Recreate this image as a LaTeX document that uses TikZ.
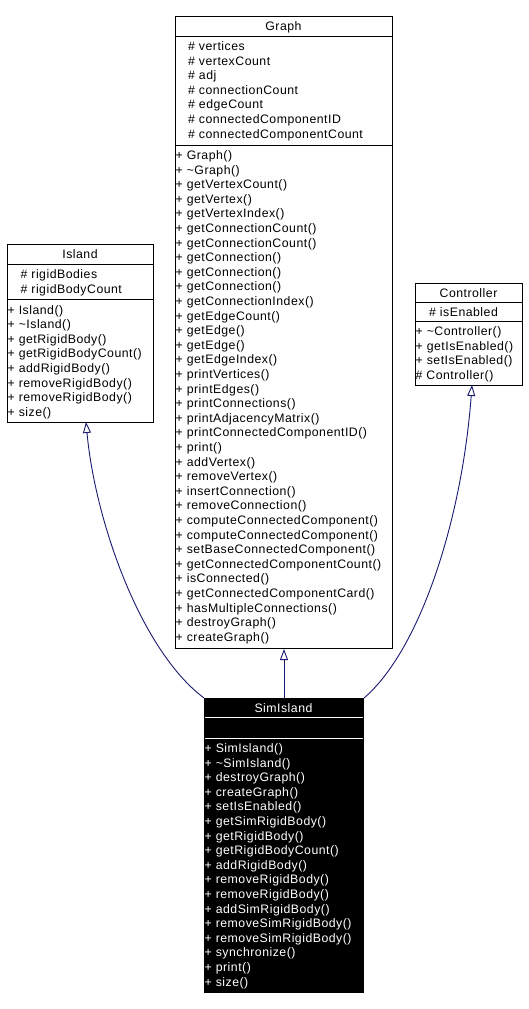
\documentclass[tikz,border=0pt]{standalone}
\usepackage{fontspec}
\setmainfont{Liberation Sans}[LetterSpace=4]
\usetikzlibrary{arrows.meta}
\definecolor{edgeblue}{RGB}{25,25,112}
\begin{document}
\begin{tikzpicture}[x=1pt,y=-1pt,
  box/.style={draw=black,line width=1pt,fill=white,inner sep=0pt,anchor=north west},
  darkbox/.style={draw=black,line width=1pt,fill=black,inner sep=0pt,anchor=north west},
  txt/.style={anchor=base west,inner sep=0pt,font=\fontsize{12.3}{14.6}\selectfont},
  ttl/.style={anchor=base,inner sep=0pt,font=\fontsize{12.3}{14.6}\selectfont},
  sep/.style={draw=black,line width=1pt},
  wsep/.style={draw=white,line width=1pt},
  inh/.style={draw=edgeblue,line width=0.9pt,-{Triangle[open,length=11pt,width=8pt,fill=white]}}]
\useasboundingbox (0,0) rectangle (529,1009);

% ---------- Graph ----------
\node[box,minimum width=217pt,minimum height=632pt] (graph) at (175,16) {};
\draw[sep] (175,36) -- (392,36);
\draw[sep] (175,145) -- (392,145);
\node[ttl] (graphT) at (283.5,30.5) {Graph};
\foreach \t [count=\i from 0] in {\# vertices,\# vertexCount,\# adj,\# connectionCount,\# edgeCount,\# connectedComponentID,\# connectedComponentCount}
  \node[txt] (ga\i) at (188,50.5+\i*14.6) {\t};
\foreach \t [count=\i from 0] in {+ Graph(),+ \textasciitilde Graph(),+ getVertexCount(),+ getVertex(),+ getVertexIndex(),+ getConnectionCount(),+ getConnectionCount(),+ getConnection(),+ getConnection(),+ getConnection(),+ getConnectionIndex(),+ getEdgeCount(),+ getEdge(),+ getEdge(),+ getEdgeIndex(),+ printVertices(),+ printEdges(),+ printConnections(),+ printAdjacencyMatrix(),+ printConnectedComponentID(),+ print(),+ addVertex(),+ removeVertex(),+ insertConnection(),+ removeConnection(),+ computeConnectedComponent(),+ computeConnectedComponent(),+ setBaseConnectedComponent(),+ getConnectedComponentCount(),+ isConnected(),+ getConnectedComponentCard(),+ hasMultipleConnections(),+ destroyGraph(),+ createGraph()}
  \node[txt] (gm\i) at (175.5,159.5+\i*14.6) {\t};

% ---------- Island ----------
\node[box,minimum width=146pt,minimum height=178pt] (island) at (7,244) {};
\draw[sep] (7,264) -- (153,264);
\draw[sep] (7,299.5) -- (153,299.5);
\node[ttl] (islandT) at (80,258) {Island};
\foreach \t [count=\i from 0] in {\# rigidBodies,\# rigidBodyCount}
  \node[txt] (ia\i) at (20.5,278.5+\i*14.6) {\t};
\foreach \t [count=\i from 0] in {+ Island(),+ \textasciitilde Island(),+ getRigidBody(),+ getRigidBodyCount(),+ addRigidBody(),+ removeRigidBody(),+ removeRigidBody(),+ size()}
  \node[txt] (im\i) at (7.5,314+\i*14.6) {\t};

% ---------- Controller ----------
\node[box,minimum width=107pt,minimum height=102pt] (ctrl) at (415,283) {};
\draw[sep] (415,302) -- (522,302);
\draw[sep] (415,321) -- (522,321);
\node[ttl] (ctrlT) at (468.5,297) {Controller};
\node[txt] (ca0) at (429,316.5) {\# isEnabled};
\foreach \t [count=\i from 0] in {+ \textasciitilde Controller(),+ getIsEnabled(),+ setIsEnabled(),\# Controller()}
  \node[txt] (cm\i) at (415.5,335.5+\i*14.6) {\t};

% ---------- SimIsland ----------
\node[darkbox,minimum width=159pt,minimum height=294pt] (sim) at (204,698) {};
\draw[wsep] (204.5,717) -- (362.5,717);
\draw[wsep] (204.5,738) -- (362.5,738);
\node[ttl,text=white] (simT) at (283.5,712) {SimIsland};
\foreach \t [count=\i from 0] in {+ SimIsland(),+ \textasciitilde SimIsland(),+ destroyGraph(),+ createGraph(),+ setIsEnabled(),+ getSimRigidBody(),+ getRigidBody(),+ getRigidBodyCount(),+ addRigidBody(),+ removeRigidBody(),+ removeRigidBody(),+ addSimRigidBody(),+ removeSimRigidBody(),+ removeSimRigidBody(),+ synchronize(),+ print(),+ size()}
  \node[txt,text=white] (sm\i) at (204.5,752.5+\i*14.6) {\t};

% ---------- inheritance ----------
\coordinate (islandtip) at (86,422);
\coordinate (ctrltip) at (472,385);
\draw[inh] (sim.north west) .. controls (140,650) and (95,520) .. (islandtip);
\draw[inh] (sim.north) -- (graph.south);
\draw[inh] (sim.north east) .. controls (420,650) and (462,520) .. (ctrltip);
\end{tikzpicture}
\end{document}
